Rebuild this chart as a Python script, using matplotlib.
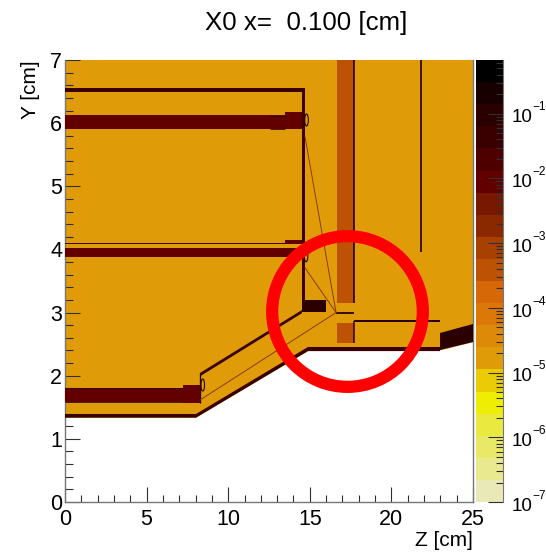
import numpy as np
import matplotlib
matplotlib.use("Agg")
import matplotlib.pyplot as plt
from matplotlib.colors import BoundaryNorm, ListedColormap
from matplotlib.patches import Polygon, Ellipse
from matplotlib.ticker import FixedLocator, NullFormatter

plt.rcParams['font.family'] = ['Liberation Sans', 'DejaVu Sans']

# palette, bottom to top
band_colors = ['#e9e9b8', '#e9e98f', '#e9e968', '#e9e940', '#eeee05',
               '#e9cc05', '#e09c08', '#dd8a08', '#dc7808', '#d66808',
               '#bd5205', '#a84000', '#8a2800', '#781800', '#620000',
               '#4e0000', '#3a0000', '#2a0000', '#180000', '#000000']
log_min = -7.0
log_max = -0.17

# material map regions: X0 value and outline in (z, y) cm
background_val = 10 ** -4.77
background_z = [0, 25, 25, 22.98, 14.89, 8.03, 0]
background_y = [7, 7, 2.53, 2.40, 2.39, 1.335, 1.335]

column_val = 10 ** -3.4
column_top = ([16.67, 17.71, 17.71, 16.67], [7, 7, 3.152, 3.152])
column_low = ([16.67, 17.71, 17.71, 16.67], [2.835, 2.835, 2.518, 2.518])

bar_val = 10 ** -2.1
bars = [
    ([0, 14.71, 14.71, 0], [6.129, 6.129, 5.908, 5.908]),
    ([13.48, 14.71, 14.71, 13.48], [6.177, 6.177, 5.908, 5.908]),
    ([0, 14.52, 14.52, 0], [4.023, 4.023, 3.88, 3.88]),
    ([13.48, 14.52, 14.52, 13.48], [4.15, 4.15, 4.08, 4.08]),
    ([0, 8.27, 8.27, 0], [1.805, 1.805, 1.584, 1.584]),
    ([7.23, 8.27, 8.27, 7.23], [1.853, 1.853, 1.568, 1.568]),
]

frame_val = 10 ** -1.5
frames = [
    ([0, 14.71, 14.71, 0], [6.557, 6.557, 6.494, 6.494]),
    ([14.52, 14.71, 14.71, 14.52], [6.557, 6.557, 3.041, 3.041]),
    ([8.27, 14.52, 14.52, 8.27], [2.043, 3.041, 2.99, 1.99]),
    ([0, 8.03, 14.89, 22.98, 22.98, 14.89, 8.03, 0],
     [1.394, 1.394, 2.455, 2.455, 2.39, 2.39, 1.335, 1.335]),
    ([0, 13.48, 13.48, 0], [4.102, 4.102, 4.08, 4.08]),
]

block_val = 10 ** -1.0
blocks = [
    ([14.52, 15.99, 15.99, 14.52], [3.2, 3.2, 3.009, 3.009]),
    ([22.98, 25, 25, 22.98], [2.677, 2.819, 2.534, 2.407]),
]

# thin lines: z, y, width
dark_lines = [
    ([17.71, 17.71], [7, 3.152], 1.7),
    ([17.71, 17.71], [2.867, 2.518], 1.5),
    ([21.81, 21.81], [7, 3.96], 1.7),
    ([17.71, 22.98], [2.867, 2.867], 2.0),
    ([16.61, 17.71], [3.0, 3.0], 1.8),
    ([8.27, 8.27], [2.043, 1.568], 1.3),
    ([12.55, 13.48], [6.12, 6.12], 0.8),
    ([12.55, 13.48], [5.915, 5.915], 0.8),
    ([0, 7.23], [1.80, 1.80], 0.8),
    ([0, 7.23], [1.59, 1.59], 0.8),
]
thin_lines = [
    ([8.27, 16.61], [1.615, 3.0]),
    ([14.71, 16.61], [3.706, 3.0]),
    ([14.71, 16.61], [5.78, 3.0]),
]
end_caps_z = [14.80, 14.77, 8.44]
end_caps_y = [6.05, 3.90, 1.853]

ring_z = 17.31
ring_y = 3.03

x_ticks = [0, 5, 10, 15, 20, 25]
y_ticks = [0, 1, 2, 3, 4, 5, 6, 7]
cbar_exps = [-7, -6, -5, -4, -3, -2, -1]

levels = np.logspace(log_min, log_max, len(band_colors) + 1)
cmap = ListedColormap(band_colors)
norm = BoundaryNorm(levels, cmap.N)

W, H = 546, 553
fig = plt.figure(figsize=(W / 100, H / 100), dpi=100)
ax = fig.add_axes([65 / W, (H - 502) / H, 408 / W, 442 / H])
cax = fig.add_axes([476 / W, (H - 502) / H, 27 / W, 442 / H])


def add_region(zs, ys, val, z=2):
    ax.add_patch(Polygon(np.column_stack([zs, ys]), closed=True, fc=cmap(norm(val)),
                         ec='none', zorder=z))


add_region(background_z, background_y, background_val, 1)
add_region(*column_top, column_val)
add_region(*column_low, column_val)
for zs, ys in bars:
    add_region(zs, ys, bar_val, 3)
for zs, ys in frames:
    add_region(zs, ys, frame_val, 3)
for zs, ys in blocks:
    add_region(zs, ys, block_val, 3)

for zs, ys, lw in dark_lines:
    ax.plot(zs, ys, color='#2a0000', lw=lw * 0.72, zorder=4, solid_capstyle='butt')
for zs, ys in thin_lines:
    ax.plot(zs, ys, color='#8a3a00', lw=0.7, zorder=4)
for zc, yc in zip(end_caps_z, end_caps_y):
    ax.add_patch(Ellipse((zc, yc), 0.22, 0.19, fc='none', ec='#2a0000', lw=0.8, zorder=4))

ax.plot([ring_z], [ring_y], marker='o', ms=108.5, mfc='none', mec='#ff0000', mew=8.8,
        zorder=6, clip_on=False)

ax.set_xlim(0, 25)
ax.set_ylim(0, 7)
ax.set_xticks(x_ticks)
ax.set_yticks(y_ticks)
ax.xaxis.set_minor_locator(FixedLocator(np.arange(0, 25.5, 1)))
ax.yaxis.set_minor_locator(FixedLocator(np.arange(0, 7.1, 0.2)))
ax.tick_params(which='major', direction='in', length=10.8, width=0.8, color='#303030',
               labelsize=15.5, pad=2)
ax.tick_params(which='minor', direction='in', length=5.4, width=0.8, color='#303030')
ax.tick_params(axis='x', pad=5)
ax.spines['top'].set_visible(False)
for s in ['left', 'bottom', 'right']:
    ax.spines[s].set_color('#777777')
    ax.spines[s].set_linewidth(1.0)

# colour scale
cax.pcolormesh([0, 1], levels, np.arange(len(band_colors)).reshape(-1, 1), cmap=cmap,
               vmin=-0.5, vmax=len(band_colors) - 0.5)
cax.set_yscale('log')
cax.set_ylim(10 ** log_min, 10 ** log_max)
cax.set_xticks([])
major = [10.0 ** e for e in cbar_exps]
minor = [m * 10.0 ** e for e in cbar_exps for m in range(2, 10) if m * 10.0 ** e < 10 ** log_max]
cax.yaxis.tick_right()
cax.yaxis.set_major_locator(FixedLocator(major))
cax.yaxis.set_major_formatter(NullFormatter())
cax.yaxis.set_minor_locator(FixedLocator(minor))
cax.yaxis.set_minor_formatter(NullFormatter())
cax.tick_params(which='major', axis='y', direction='in', length=10.8, width=0.8, color='#303030')
cax.tick_params(which='minor', axis='y', direction='in', length=5.4, width=0.8, color='#303030')
for s in ['top', 'left', 'bottom']:
    cax.spines[s].set_visible(False)
cax.spines['right'].set_color('#777777')

# exponents are smaller than mathtext gives, so base and power are set apart
for e in cbar_exps:
    trans = cax.get_yaxis_transform()
    cax.annotate('10', (1, 10.0 ** e), xycoords=trans, xytext=(6, -3), textcoords='offset points',
                 ha='left', va='center', fontsize=13.5, annotation_clip=False)
    cax.annotate('\u2212%d' % abs(e), (1, 10.0 ** e), xycoords=trans, xytext=(21, 4.5),
                 textcoords='offset points', ha='left', va='center', fontsize=8.6,
                 annotation_clip=False)

fig.text(306 / W, 1 - 23 / H, 'X0 x=  0.100 [cm]', ha='center', va='center', fontsize=18.6)
fig.text(473 / W, 1 - 541 / H, 'Z [cm]', ha='right', va='center', fontsize=15)
fig.text(30 / W, 1 - 60 / H, 'Y [cm]', ha='center', va='top', rotation=90, fontsize=15)

fig.savefig('out.png', dpi=100)
